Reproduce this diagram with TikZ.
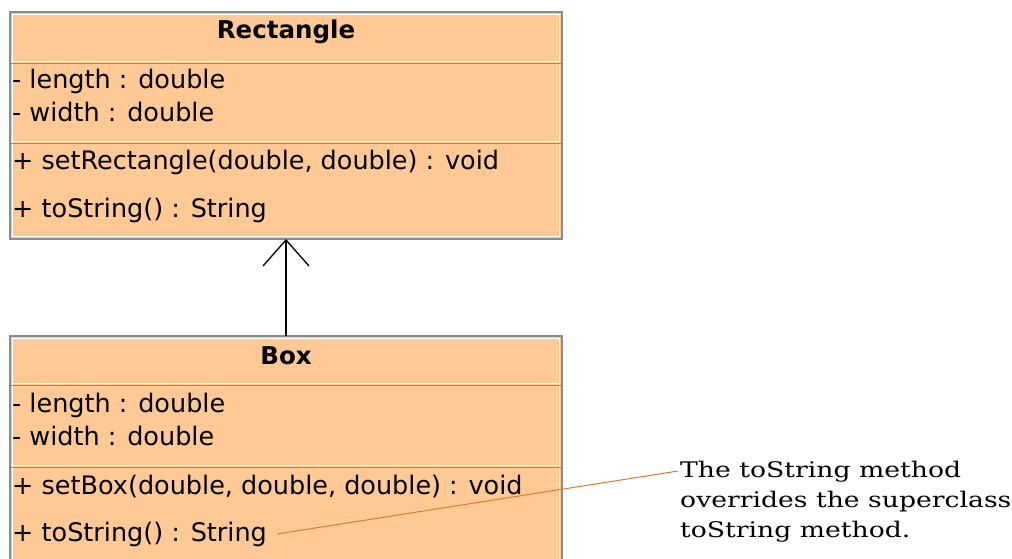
\documentclass[tikz,border=0pt]{standalone}
\usepackage{fontspec}
\usetikzlibrary{arrows.meta}
\newfontfamily\umlfont{DejaVu Sans}
\newfontfamily\notefont{DejaVu Serif}
\definecolor{classfill}{RGB}{255,201,150}
\definecolor{classedge}{RGB}{140,140,140}
\definecolor{noteline}{RGB}{226,120,50}
\newcommand{\wideline}[1]{\scalebox{1.24}[1]{#1}}
\tikzset{
  classbody/.style={fill=classfill, draw=classedge, line width=1.6pt},
  innerrule/.style={draw=white, line width=1pt},
  divider/.style={draw=classedge, line width=1.4pt},
  title/.style={font=\umlfont\bfseries\fontsize{24.5}{28}\selectfont, inner sep=0pt, anchor=center},
  member/.style={font=\umlfont\fontsize{25.5}{30}\selectfont, inner sep=0pt, anchor=west},
  notetext/.style={font=\notefont\fontsize{21.5}{30}\selectfont, inner sep=0pt, anchor=north west, align=left},
  generalization/.style={-{Straight Barb[length=26pt,width=46pt,line width=1.3pt]}, line width=1.4pt, black},
  annotation/.style={draw=noteline, line width=1pt}
}
\begin{document}
\begin{tikzpicture}[x=1pt,y=-1pt]
  \fill[white] (0,0) rectangle (1012,558);
  \useasboundingbox (0,0) rectangle (1012,558);
  \begin{scope}
  \clip (0,0) rectangle (1012,558);

  % superclass Rectangle
  \path[classbody] (10,12) rectangle (562,239);
  \draw[innerrule] (12.5,14.5) rectangle (559.5,236.5);
  \draw[innerrule] (12,61.5) -- (560,61.5);
  \draw[divider] (10,63.5) -- (562,63.5);
  \draw[innerrule] (12,141.5) -- (560,141.5);
  \draw[divider] (10,143.5) -- (562,143.5);
  \node[title] (rtitle) at (286,32) {Rectangle};
  \node[member] (ra1) at (12,81) {- length : double};
  \node[member] (ra2) at (12,112) {- width : double};
  \node[member] (rm1) at (12,162) {+ setRectangle(double, double) : void};
  \node[member] (rm2) at (12,210) {+ toString() : String};
  \coordinate (rbottom) at (286,239);

  % subclass Box (runs past the lower edge)
  \path[classbody] (10,336) rectangle (562,600);
  \draw[innerrule] (12.5,338.5) rectangle (559.5,598);
  \draw[innerrule] (12,383.5) -- (560,383.5);
  \draw[divider] (10,385.5) -- (562,385.5);
  \draw[innerrule] (12,465.5) -- (560,465.5);
  \draw[divider] (10,467.5) -- (562,467.5);
  \node[title] (btitle) at (286,356) {Box};
  \node[member] (ba1) at (12,405) {- length : double};
  \node[member] (ba2) at (12,436) {- width : double};
  \node[member] (bm1) at (12,486) {+ setBox(double, double, double) : void};
  \node[member] (bm2) at (12,534) {+ toString() : String};
  \coordinate (btop) at (286,336);
  \end{scope}

  % inheritance arrow
  \draw[generalization] (btop) -- (rbottom);

  % annotation
  \node[notetext] (note) at (680,461) {\wideline{The toString method}\\\wideline{overrides the superclass}\\\wideline{toString method.}};
  \draw[annotation] ([xshift=10pt]bm2.east) -- ([yshift=-10pt,xshift=-2pt]note.north west);
\end{tikzpicture}
\end{document}
